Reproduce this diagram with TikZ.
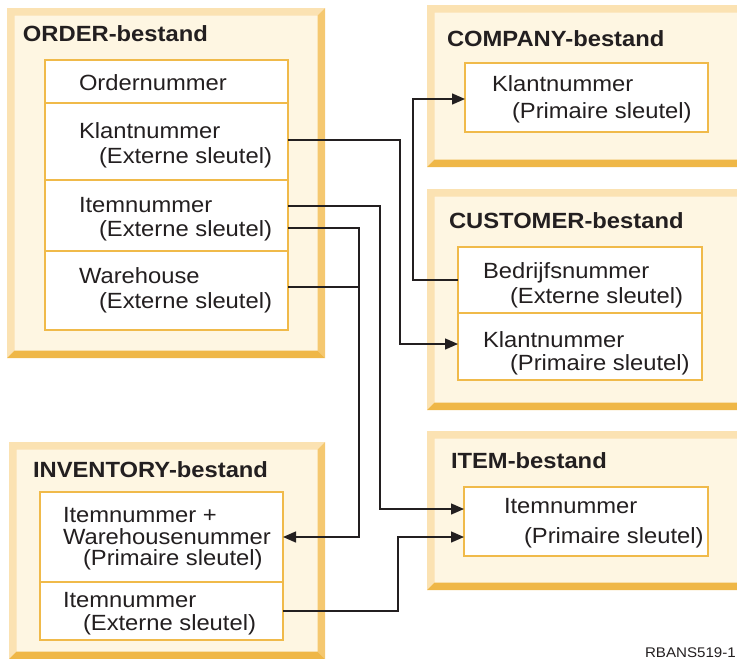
\documentclass[tikz,border=0pt]{standalone}
\usepackage{fontspec}
\newfontfamily\lab[FakeStretch=1.08]{Liberation Sans}
\usetikzlibrary{arrows.meta,calc}
\definecolor{cream}{HTML}{FEF6E2}
\definecolor{bevL}{HTML}{FBE2B2}
\definecolor{bevR}{HTML}{F5C870}
\definecolor{bevB}{HTML}{EFB747}
\definecolor{rowc}{HTML}{F0BA4A}
\definecolor{ink}{HTML}{231F20}
\newcommand\bevel[1]{%
  \fill[bevL] (#1.north west) -- (#1.north east) -- ([xshift=-7.5pt,yshift=-7.5pt]#1.north east)
     -- ([xshift=7.5pt,yshift=-7.5pt]#1.north west) -- ([xshift=7.5pt,yshift=7.5pt]#1.south west)
     -- (#1.south west) -- cycle;
  \fill[bevR] (#1.north east) -- (#1.south east) -- ([xshift=-7.5pt,yshift=7.5pt]#1.south east)
     -- ([xshift=-7.5pt,yshift=-7.5pt]#1.north east) -- cycle;
  \fill[bevB] (#1.south west) -- (#1.south east) -- ([xshift=-7.5pt,yshift=7.5pt]#1.south east)
     -- ([xshift=7.5pt,yshift=7.5pt]#1.south west) -- cycle;}
\tikzset{
  outerbox/.style={fill=cream, anchor=north west, inner sep=0pt, outer sep=0pt},
  rowbox/.style={draw=rowc, fill=white, line width=1.5pt, anchor=north west, inner sep=0pt, outer sep=0pt},
  lbl/.style={anchor=base west, inner sep=0pt, outer sep=0pt, text=ink, font=\lab\fontsize{22}{24}\selectfont},
  ttl/.style={lbl, font=\lab\bfseries\fontsize{22}{24}\selectfont},
  conn/.style={draw=ink, line width=1.4pt, -{Triangle[length=13pt,width=11pt]}},
  plain/.style={draw=ink, line width=1.4pt},
}
\begin{document}
\begin{tikzpicture}[x=1pt,y=-1pt]
\useasboundingbox (0,0) rectangle (737,659);
% outer frames
\node[outerbox, minimum width=318, minimum height=350] (order) at (7,8) {};
\node[outerbox, minimum width=318, minimum height=162] (company) at (427,5) {};
\node[outerbox, minimum width=318, minimum height=221] (customer) at (427,189) {};
\node[outerbox, minimum width=318, minimum height=159] (item) at (427,431) {};
\node[outerbox, minimum width=316, minimum height=217] (inventory) at (9,442) {};
\bevel{order}\bevel{company}\bevel{customer}\bevel{item}\bevel{inventory}
% titles
\node[ttl] (tOrder) at (23,41) {ORDER-bestand};
\node[ttl] (tCompany) at (447,46) {COMPANY-bestand};
\node[ttl] (tCustomer) at (449,228) {CUSTOMER-bestand};
\node[ttl] (tItem) at (451,468) {ITEM-bestand};
\node[ttl] (tInventory) at (33,477) {INVENTORY-bestand};
% rows
\node[rowbox, minimum width=243, minimum height=43] (ordNum) at (45,60) {};
\node[rowbox, minimum width=243, minimum height=77] (ordKlant) at (45,103) {};
\node[rowbox, minimum width=243, minimum height=71] (ordItem) at (45,180) {};
\node[rowbox, minimum width=243, minimum height=79] (ordWh) at (45,251) {};
\node[rowbox, minimum width=243, minimum height=69] (compKlant) at (465,63) {};
\node[rowbox, minimum width=244, minimum height=66] (custBedr) at (458,247) {};
\node[rowbox, minimum width=244, minimum height=67] (custKlant) at (458,313) {};
\node[rowbox, minimum width=244, minimum height=69] (itemItem) at (464,487) {};
\node[rowbox, minimum width=243, minimum height=90] (invPrim) at (40,492) {};
\node[rowbox, minimum width=243, minimum height=58] (invExt) at (40,582) {};
% texts
\node[lbl] (a1) at (79,90) {Ordernummer};
\node[lbl] (a2) at (79,138) {Klantnummer};
\node[lbl] (a3) at (99,163) {(Externe sleutel)};
\node[lbl] (a4) at (79,212) {Itemnummer};
\node[lbl] (a5) at (99,236) {(Externe sleutel)};
\node[lbl] (a6) at (79,283) {Warehouse};
\node[lbl] (a7) at (99,308) {(Externe sleutel)};
\node[lbl] (b1) at (492,91) {Klantnummer};
\node[lbl] (b2) at (512,118) {(Primaire sleutel)};
\node[lbl] (c1) at (483,278) {Bedrijfsnummer};
\node[lbl] (c2) at (510,303) {(Externe sleutel)};
\node[lbl] (c3) at (483,347) {Klantnummer};
\node[lbl] (c4) at (510,370) {(Primaire sleutel)};
\node[lbl] (d1) at (504,513) {Itemnummer};
\node[lbl] (d2) at (524,543) {(Primaire sleutel)};
\node[lbl] (e1) at (63,522) {Itemnummer +};
\node[lbl] (e2) at (63,544) {Warehousenummer};
\node[lbl] (e3) at (83,565) {(Primaire sleutel)};
\node[lbl] (e4) at (63,607) {Itemnummer};
\node[lbl] (e5) at (83,630) {(Externe sleutel)};
\node[anchor=base east, inner sep=0pt, text=ink, font=\lab\fontsize{14}{15}\selectfont] (fig) at (736,657) {RBANS519-1};
% connectors
\draw[conn] ([yshift=1.5pt]ordKlant.east) -- ++(112,0) |- ([yshift=2.5pt]custKlant.west);
\draw[conn] (custBedr.west) -- ++(-45,0) |- ([yshift=-1.5pt]compKlant.west);
\draw[conn] ([yshift=9.5pt]ordItem.east) -- ++(92,0) |- ([yshift=12.5pt]itemItem.west);
\draw[conn] ([yshift=-12.5pt]ordItem.east) -- ++(71,0) |- (invPrim.east);
\draw[plain] ([yshift=3.5pt]ordWh.east) -- ++(71,0);
\draw[conn] (invExt.east) -- ++(115,0) |- ([yshift=-15.5pt]itemItem.west);
\end{tikzpicture}
\end{document}
